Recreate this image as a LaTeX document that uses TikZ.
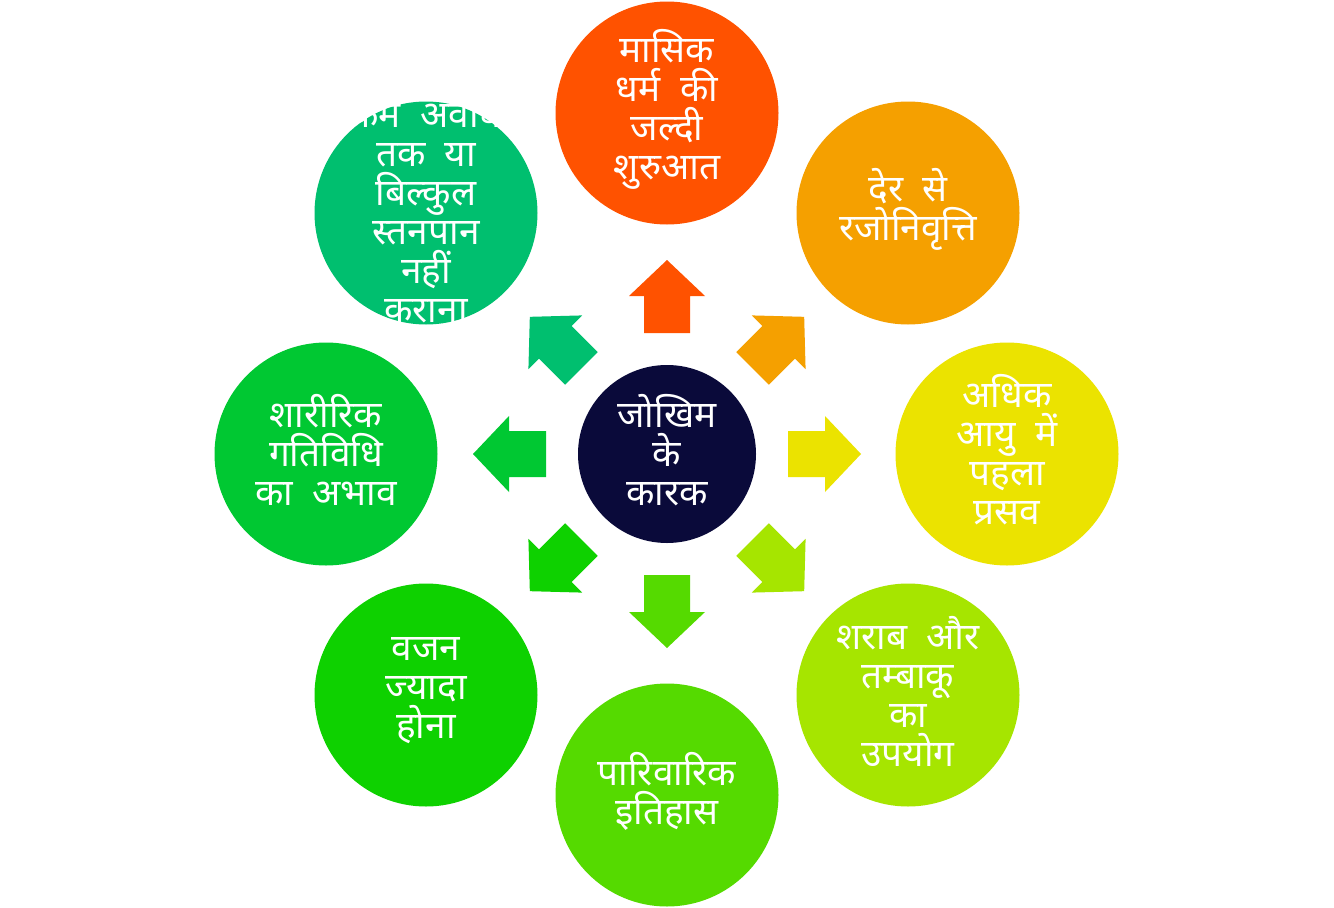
\documentclass[tikz,border=0pt]{standalone}
\usepackage{fontspec}
\newfontfamily\dev[Script=Devanagari]{Noto Sans}
\usetikzlibrary{calc}
\definecolor{cTop}{HTML}{FF5200}
\definecolor{cTR}{HTML}{F5A000}
\definecolor{cR}{HTML}{EBE300}
\definecolor{cBR}{HTML}{A6E500}
\definecolor{cB}{HTML}{55DA00}
\definecolor{cBL}{HTML}{0ED100}
\definecolor{cL}{HTML}{00C832}
\definecolor{cTL}{HTML}{00BF6F}
\definecolor{cC}{HTML}{0A0A3A}
\tikzset{
  txt/.style={text=white,align=center,inner sep=0pt,yshift=4pt,
    font=\dev\fontsize{37}{39}\selectfont},
  outer/.style={circle,minimum size=223pt,inner sep=0pt},
  hub/.style={circle,minimum size=178pt,inner sep=0pt,fill=cC},
}
\newcommand{\blockarrow}[2]{%
  \fill[#2,rotate around={#1:(C.center)}]
    ($(C.center)+(121,-23)$) -- ($(C.center)+(158,-23)$) -- ($(C.center)+(158,-38)$)
    -- ($(C.center)+(194,0)$) -- ($(C.center)+(158,38)$) -- ($(C.center)+(158,23)$)
    -- ($(C.center)+(121,23)$) -- cycle;}
\begin{document}
\begin{tikzpicture}[x=1pt,y=-1pt]
\useasboundingbox[fill=white] (0,0) rectangle (1334,908);
\node[hub,label={[txt]center:{जोखिम\\के\\कारक}}] (C) at (667,454) {};
\node[outer,fill=cTop,label={[txt]center:{मासिक\\धर्म~ की\\जल्दी\\शुरुआत}}] (n1) at (667,113) {};
\node[outer,fill=cTR,label={[txt]center:{देर~ से\\रजोनिवृत्ति}}] (n2) at (908,213) {};
\node[outer,fill=cR,label={[txt]center:{अधिक\\आयु~ में\\पहला\\प्रसव}}] (n3) at (1007,454) {};
\node[outer,fill=cBR,label={[txt]center:{शराब~ और\\तम्बाकू\\का\\उपयोग}}] (n4) at (908,695) {};
\node[outer,fill=cB,label={[txt]center:{पारिवारिक\\इतिहास}}] (n5) at (667,795) {};
\node[outer,fill=cBL,label={[txt]center:{वजन\\ज्यादा\\होना}}] (n6) at (426,695) {};
\node[outer,fill=cL,label={[txt]center:{शारीरिक\\गतिविधि\\का~ अभाव}}] (n7) at (326,454) {};
\node[outer,fill=cTL,label={[txt]center:{कम~ अवधि\\तक~ या\\बिल्कुल\\स्तनपान\\नहीं\\कराना}}] (n8) at (426,213) {};
\blockarrow{90}{cTop}
\blockarrow{45}{cTR}
\blockarrow{0}{cR}
\blockarrow{-45}{cBR}
\blockarrow{-90}{cB}
\blockarrow{-135}{cBL}
\blockarrow{180}{cL}
\blockarrow{135}{cTL}
\end{tikzpicture}
\end{document}
